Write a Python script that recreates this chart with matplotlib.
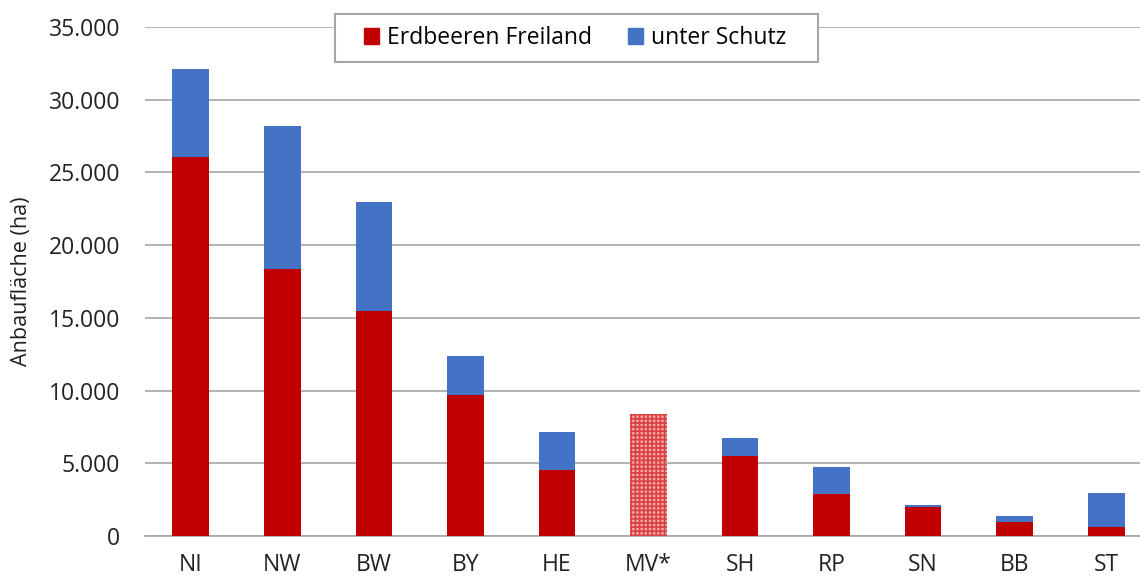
import matplotlib
matplotlib.use("Agg")
import matplotlib.pyplot as plt
from matplotlib.ticker import FuncFormatter
from matplotlib.patches import Patch, Rectangle

categories = ["NI", "NW", "BW", "BY", "HE", "MV*", "SH", "RP", "SN", "BB", "ST"]
freiland = [26050, 18350, 15470, 9700, 4540, 8390, 5500, 2890, 1970, 940, 600]
schutz = [6050, 9850, 7500, 2680, 2610, 0, 1240, 1860, 160, 420, 2360]
hatched = [False, False, False, False, False, True, False, False, False, False, False]
yticks = [0, 5000, 10000, 15000, 20000, 25000, 30000, 35000]

plt.rcParams['font.family'] = ['Open Sans', 'DejaVu Sans']
plt.rcParams['hatch.linewidth'] = 1.2

W, H = 1140, 580
fig = plt.figure(figsize=(11.4, 5.8), dpi=100)
ax = fig.add_axes([145/W, 44/H, 1007/W, 509/H])

x = list(range(len(categories)))
red = '#c00000'
blue = '#4472c4'
for i in x:
    if hatched[i]:
        ax.bar(i, freiland[i], width=0.4, color='#f2a8a8', edgecolor='#da4040',
               hatch='++++', linewidth=0, zorder=3)
    else:
        ax.bar(i, freiland[i], width=0.4, color=red, zorder=3)
        ax.bar(i, schutz[i], bottom=freiland[i], width=0.4, color=blue, zorder=3)

ax.set_xlim(-0.5, len(categories) - 0.5)
ax.set_ylim(0, 35000)
ax.set_yticks(yticks)
ax.yaxis.set_major_formatter(FuncFormatter(lambda v, p: f"{int(v):,}".replace(",", ".")))
ax.set_xticks(x)
ax.set_xticklabels(categories)
ax.grid(axis='y', color='#a6a6a6', linewidth=1.2, zorder=0)
for s in ['left', 'right', 'top']:
    ax.spines[s].set_visible(False)
ax.spines['bottom'].set_color('#a6a6a6')
ax.spines['bottom'].set_linewidth(1.2)
ax.tick_params(axis='y', length=0, labelsize=16.5, pad=18, colors='#222222')
ax.tick_params(axis='x', length=0, labelsize=16.5, pad=12, colors='#222222')
ax.set_ylabel("Anbaufläche (ha)", fontsize=15.5, color='#222222', labelpad=12)

# legend frame
frame = Rectangle((335/W, (H-62)/H), (818-335)/W, 48/H, transform=fig.transFigure,
                  facecolor='white', edgecolor='#a6a6a6', linewidth=1.5, zorder=4)
fig.patches.append(frame)

handles = [Patch(color=red), Patch(color=blue)]
leg = fig.legend(handles, ["Erdbeeren Freiland", "unter Schutz"], ncol=2,
                 loc='center left', bbox_to_anchor=(346/W, (H-38)/H),
                 fontsize=16.5, frameon=False,
                 handlelength=0.65, handleheight=0.65, columnspacing=1.55,
                 borderpad=0.3, handletextpad=0.35)
leg.set_zorder(6)

fig.savefig("out.png", dpi=100)
